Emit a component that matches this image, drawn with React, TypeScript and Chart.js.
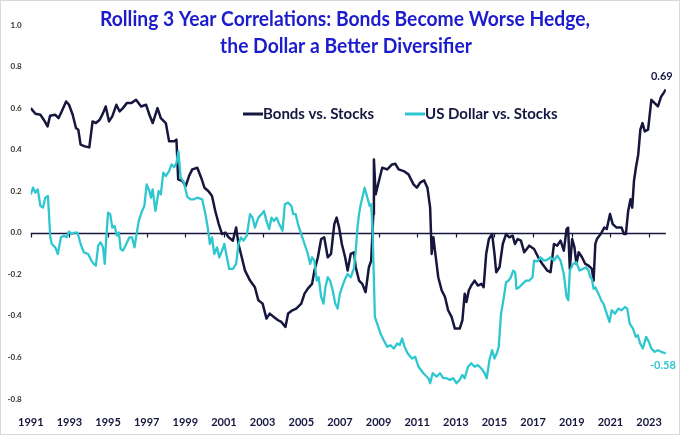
import React, { useEffect, useRef } from "react";
import { Chart, registerables } from "chart.js";

Chart.register(...registerables);

const titleLines = [
  "Rolling 3 Year Correlations: Bonds Become Worse Hedge,",
  "the Dollar a Better Diversifier",
];
const seriesNames = ["Bonds vs. Stocks", "US Dollar vs. Stocks"];
const endLabels = ["0.69", "-0.58"];
const xTickYears = [1991, 1993, 1995, 1997, 1999, 2001, 2003, 2005, 2007, 2009, 2011, 2013, 2015, 2017, 2019, 2021, 2023];
const yTicks = [-0.8, -0.6, -0.4, -0.2, 0, 0.2, 0.4, 0.6, 0.8, 1.0];

const bondDates = [
  1991.0, 1991.24, 1991.5, 1991.67, 1991.87, 1992.0, 1992.27, 1992.44, 1992.6, 1992.83,
  1992.98, 1993.17, 1993.34, 1993.46, 1993.58, 1993.8, 1994.03, 1994.2, 1994.37, 1994.57,
  1994.74, 1994.88, 1995.05, 1995.22, 1995.43, 1995.6, 1995.77, 1995.97, 1996.2, 1996.45,
  1996.71, 1996.97, 1997.14, 1997.31, 1997.56, 1997.73, 1997.99, 1998.16, 1998.42, 1998.54,
  1998.63, 1998.85, 1999.02, 1999.19, 1999.36, 1999.62, 1999.82, 1999.99, 2000.2, 2000.38,
  2000.55, 2000.73, 2000.9, 2001.07, 2001.24, 2001.46, 2001.63, 2001.75, 2001.92, 2002.09,
  2002.35, 2002.6, 2002.78, 2003.0, 2003.2, 2003.37, 2003.58, 2003.8, 2003.97, 2004.18,
  2004.32, 2004.54, 2004.74, 2005.0, 2005.17, 2005.34, 2005.56, 2005.68, 2005.86, 2006.03,
  2006.19, 2006.37, 2006.54, 2006.71, 2006.83, 2006.96, 2007.1, 2007.27, 2007.4, 2007.56,
  2007.73, 2007.82, 2007.99, 2008.16, 2008.33, 2008.5, 2008.62, 2008.73, 2008.76, 2008.85,
  2009.02, 2009.19, 2009.45, 2009.7, 2009.87, 2010.04, 2010.3, 2010.55, 2010.81, 2010.98,
  2011.15, 2011.36, 2011.53, 2011.67, 2011.75, 2011.84, 2011.92, 2012.09, 2012.27, 2012.44,
  2012.6, 2012.78, 2012.95, 2013.2, 2013.34, 2013.46, 2013.55, 2013.67, 2013.8, 2013.97,
  2014.14, 2014.32, 2014.44, 2014.57, 2014.71, 2014.88, 2015.0, 2015.09, 2015.26, 2015.43,
  2015.6, 2015.77, 2015.94, 2016.06, 2016.2, 2016.37, 2016.54, 2016.8, 2017.05, 2017.31,
  2017.48, 2017.73, 2017.9, 2018.08, 2018.25, 2018.42, 2018.59, 2018.73, 2018.81, 2018.9,
  2019.02, 2019.14, 2019.24, 2019.36, 2019.53, 2019.7, 2019.87, 2020.04, 2020.13, 2020.22,
  2020.3, 2020.5, 2020.68, 2020.81, 2020.98, 2021.12, 2021.32, 2021.58, 2021.7, 2021.8,
  2021.92, 2022.04, 2022.13, 2022.22, 2022.32, 2022.44, 2022.55, 2022.66, 2022.78, 2022.95,
  2023.12, 2023.29, 2023.46, 2023.63, 2023.75, 2023.87,
];
const bondValues = [
  0.6, 0.573, 0.568, 0.544, 0.512, 0.563, 0.568, 0.552, 0.584, 0.632,
  0.616, 0.568, 0.504, 0.496, 0.424, 0.416, 0.411, 0.536, 0.528, 0.544,
  0.576, 0.608, 0.536, 0.56, 0.616, 0.584, 0.6, 0.624, 0.624, 0.64,
  0.608, 0.616, 0.568, 0.528, 0.6, 0.552, 0.528, 0.44, 0.44, 0.448,
  0.257, 0.249, 0.225, 0.273, 0.305, 0.313, 0.265, 0.217, 0.2, 0.177,
  0.105, 0.042, -0.006, 0.001, -0.022, -0.038, 0.025, -0.054, -0.118, -0.182,
  -0.23, -0.262, -0.325, -0.341, -0.413, -0.389, -0.405, -0.421, -0.429, -0.453,
  -0.389, -0.373, -0.365, -0.341, -0.293, -0.269, -0.246, -0.182, -0.118, -0.03,
  -0.022, -0.118, -0.102, 0.042, 0.073, 0.025, -0.054, -0.118, -0.182, -0.102,
  -0.094, -0.166, -0.23, -0.246, -0.286, -0.166, -0.134, 0.09, 0.353, 0.185,
  0.249, 0.313, 0.305, 0.329, 0.332, 0.305, 0.297, 0.281, 0.233, 0.217,
  0.241, 0.252, 0.217, 0.121, -0.102, -0.022, -0.086, -0.214, -0.278, -0.309,
  -0.373, -0.405, -0.461, -0.461, -0.421, -0.293, -0.333, -0.278, -0.254, -0.23,
  -0.254, -0.246, -0.262, -0.102, -0.03, -0.006, -0.102, -0.19, -0.166, -0.054,
  -0.006, -0.022, -0.014, -0.054, -0.03, -0.038, -0.094, -0.062, -0.078, -0.126,
  -0.15, -0.182, -0.19, -0.054, -0.062, -0.038, -0.086, 0.018, 0.025, -0.174,
  -0.03, -0.07, -0.15, -0.094, -0.118, -0.15, -0.158, -0.174, -0.23, -0.054,
  -0.03, -0.006, 0.025, 0.018, 0.09, 0.042, 0.025, 0.025, -0.006, -0.006,
  0.105, 0.161, 0.121, 0.249, 0.313, 0.377, 0.496, 0.528, 0.488, 0.496,
  0.64, 0.624, 0.608, 0.656, 0.672, 0.69,
];

const usdDates = [
  1991.0, 1991.12, 1991.24, 1991.36, 1991.5, 1991.63, 1991.75, 1991.89, 1992.01, 1992.09,
  1992.27, 1992.4, 1992.56, 1992.73, 1992.86, 1992.98, 1993.12, 1993.29, 1993.42, 1993.58,
  1993.75, 1993.97, 1994.14, 1994.26, 1994.37, 1994.49, 1994.61, 1994.74, 1994.83, 1994.91,
  1995.0, 1995.11, 1995.22, 1995.34, 1995.46, 1995.56, 1995.65, 1995.77, 1995.94, 1996.11,
  1996.24, 1996.37, 1996.49, 1996.59, 1996.76, 1996.88, 1997.0, 1997.14, 1997.22, 1997.31,
  1997.45, 1997.62, 1997.73, 1997.86, 1997.99, 1998.16, 1998.29, 1998.42, 1998.54, 1998.64,
  1998.76, 1998.93, 1999.1, 1999.27, 1999.45, 1999.62, 1999.87, 2000.04, 2000.16, 2000.27,
  2000.38, 2000.5, 2000.64, 2000.76, 2000.9, 2001.02, 2001.15, 2001.27, 2001.46, 2001.63,
  2001.75, 2001.88, 2002.01, 2002.18, 2002.35, 2002.48, 2002.6, 2002.78, 2002.95, 2003.07,
  2003.2, 2003.34, 2003.46, 2003.58, 2003.72, 2003.86, 2004.03, 2004.15, 2004.32, 2004.49,
  2004.58, 2004.71, 2004.83, 2005.0, 2005.17, 2005.34, 2005.46, 2005.56, 2005.68, 2005.8,
  2005.9, 2006.03, 2006.15, 2006.25, 2006.37, 2006.49, 2006.63, 2006.76, 2006.88, 2007.0,
  2007.14, 2007.27, 2007.4, 2007.56, 2007.73, 2007.82, 2007.91, 2007.99, 2008.08, 2008.16,
  2008.28, 2008.42, 2008.54, 2008.62, 2008.69, 2008.76, 2008.81, 2008.93, 2009.1, 2009.27,
  2009.45, 2009.62, 2009.79, 2009.96, 2010.1, 2010.22, 2010.35, 2010.5, 2010.73, 2010.9,
  2011.07, 2011.32, 2011.58, 2011.67, 2011.8, 2012.01, 2012.18, 2012.35, 2012.52, 2012.69,
  2012.86, 2013.03, 2013.2, 2013.34, 2013.46, 2013.63, 2013.8, 2013.97, 2014.14, 2014.32,
  2014.49, 2014.6, 2014.74, 2014.88, 2015.0, 2015.12, 2015.22, 2015.34, 2015.46, 2015.6,
  2015.73, 2015.85, 2015.97, 2016.07, 2016.14, 2016.28, 2016.45, 2016.63, 2016.8, 2016.97,
  2017.05, 2017.22, 2017.39, 2017.56, 2017.73, 2017.9, 2018.08, 2018.25, 2018.42, 2018.59,
  2018.73, 2018.82, 2018.9, 2019.07, 2019.24, 2019.4, 2019.57, 2019.74, 2019.87, 2019.96,
  2020.04, 2020.13, 2020.22, 2020.38, 2020.55, 2020.64, 2020.81, 2020.95, 2021.07, 2021.24,
  2021.41, 2021.58, 2021.75, 2021.87, 2022.0, 2022.17, 2022.31, 2022.42, 2022.54, 2022.68,
  2022.85, 2022.99, 2023.12, 2023.29, 2023.46, 2023.63, 2023.87,
];
const usdValues = [
  0.185, 0.217, 0.193, 0.209, 0.129, 0.121, 0.169, 0.177, -0.022, -0.054,
  -0.07, -0.102, -0.022, -0.014, -0.022, 0.006, -0.006, 0.001, 0.001, -0.054,
  -0.094, -0.102, -0.134, -0.15, -0.158, -0.062, -0.046, -0.07, -0.15, -0.022,
  0.097, 0.09, 0.025, 0.033, -0.014, 0.001, -0.078, -0.086, -0.054, -0.022,
  -0.022, -0.07, 0.001, 0.057, 0.105, 0.129, 0.233, 0.201, 0.169, 0.209,
  0.105, 0.201, 0.185, 0.289, 0.273, 0.297, 0.329, 0.316, 0.336, 0.392,
  0.265, 0.241, 0.173, 0.161, 0.161, 0.169, 0.161, 0.09, 0.025, -0.054,
  -0.022, -0.102, -0.07, -0.118, -0.086, -0.054, -0.118, -0.174, -0.174, -0.15,
  -0.054, -0.022, -0.038, -0.014, 0.09, 0.073, 0.025, 0.073, 0.09, 0.105,
  0.057, 0.018, 0.073, 0.057, 0.073, 0.042, 0.01, 0.137, 0.145, 0.129,
  0.09, 0.09, 0.042, -0.006, -0.054, -0.102, -0.15, -0.118, -0.134, -0.23,
  -0.214, -0.309, -0.341, -0.262, -0.214, -0.23, -0.278, -0.341, -0.365, -0.293,
  -0.254, -0.222, -0.198, -0.214, -0.17, -0.086, 0.025, 0.09, 0.137, 0.169,
  0.217, 0.169, 0.129, 0.137, 0.025, -0.23, -0.405, -0.437, -0.485, -0.517,
  -0.549, -0.541, -0.557, -0.533, -0.54, -0.509, -0.549, -0.58, -0.605, -0.597,
  -0.645, -0.676, -0.7, -0.724, -0.676, -0.692, -0.676, -0.7, -0.7, -0.708,
  -0.7, -0.724, -0.708, -0.684, -0.7, -0.645, -0.628, -0.645, -0.637, -0.653,
  -0.676, -0.7, -0.612, -0.565, -0.605, -0.58, -0.549, -0.389, -0.325, -0.238,
  -0.23, -0.214, -0.182, -0.19, -0.27, -0.262, -0.246, -0.23, -0.23, -0.214,
  -0.134, -0.138, -0.118, -0.134, -0.13, -0.118, -0.134, -0.11, -0.134, -0.2,
  -0.309, -0.325, -0.182, -0.15, -0.142, -0.182, -0.174, -0.166, -0.182, -0.214,
  -0.222, -0.27, -0.262, -0.293, -0.33, -0.341, -0.389, -0.429, -0.373, -0.389,
  -0.365, -0.373, -0.357, -0.365, -0.437, -0.461, -0.501, -0.493, -0.533, -0.557,
  -0.501, -0.525, -0.557, -0.573, -0.565, -0.573, -0.58,
];

const NAVY = "#16163e";
const CYAN = "#2ec7cf";
const TITLE_BLUE = "#1c1ccc";
const FONT = "Lato, 'Open Sans', 'DejaVu Sans', sans-serif";

const overlayPlugin = {
  id: "overlay",
  beforeDatasetsDraw(chart: any) {
    const { ctx, chartArea, scales } = chart;
    const y0 = Math.round(scales.y.getPixelForValue(0)) + 0.5;
    ctx.save();
    ctx.strokeStyle = NAVY;
    ctx.lineWidth = 1.5;
    ctx.beginPath();
    ctx.moveTo(chartArea.left, y0);
    ctx.lineTo(chartArea.right, y0);
    ctx.stroke();
    ctx.lineWidth = 1.2;
    ctx.beginPath();
    for (const yr of xTickYears) {
      const x = Math.round(scales.x.getPixelForValue(yr)) + 0.5;
      ctx.moveTo(x, y0);
      ctx.lineTo(x, y0 + 4);
    }
    ctx.stroke();
    ctx.restore();
  },
  afterDatasetsDraw(chart: any) {
    const { ctx } = chart;
    ctx.save();
    // Title
    ctx.fillStyle = TITLE_BLUE;
    ctx.font = `bold 21px ${FONT}`;
    ctx.textAlign = "center";
    ctx.textBaseline = "middle";
    const w1 = ctx.measureText(titleLines[0]).width;
    const w2 = ctx.measureText(titleLines[1]).width;
    const f = Math.min(1, 490 / w1);
    ctx.fillText(titleLines[0], 344, 18, w1 * f);
    ctx.fillText(titleLines[1], 345, 45, w2 * f);

    // Legend
    const legendItems = [
      { x: 242, color: NAVY, text: seriesNames[0], width: 114 },
      { x: 404, color: CYAN, text: seriesNames[1], width: 135 },
    ];
    ctx.font = `bold 15px ${FONT}`;
    ctx.textAlign = "left";
    for (const it of legendItems) {
      ctx.strokeStyle = it.color;
      ctx.lineWidth = 3;
      ctx.beginPath();
      ctx.moveTo(it.x, 113);
      ctx.lineTo(it.x + 20, 113);
      ctx.stroke();
      ctx.fillStyle = NAVY;
      const tw = ctx.measureText(it.text).width;
      ctx.fillText(it.text, it.x + 20, 113, Math.min(tw, it.width));
    }

    // End labels
    ctx.font = `bold 11px ${FONT}`;
    ctx.textAlign = "center";
    const m0 = chart.getDatasetMeta(0).data;
    const m1 = chart.getDatasetMeta(1).data;
    const p0 = m0[m0.length - 1];
    const p1 = m1[m1.length - 1];
    ctx.fillStyle = NAVY;
    ctx.fillText(endLabels[0], p0.x - 4, p0.y - 13);
    ctx.fillStyle = CYAN;
    ctx.fillText(endLabels[1], p1.x - 3, p1.y + 12);
    ctx.restore();
  },
};

export default function App() {
  const canvasRef = useRef<HTMLCanvasElement | null>(null);

  useEffect(() => {
    const canvas = canvasRef.current;
    if (!canvas) return;
    const chart = new Chart(canvas, {
      type: "line",
      data: {
        datasets: [
          {
            label: seriesNames[0],
            data: bondDates.map((d, i) => ({ x: d, y: bondValues[i] })),
            borderColor: NAVY,
            borderWidth: 2.5,
            pointRadius: 0,
            tension: 0,
            borderJoinStyle: "round",
            order: 1,
          },
          {
            label: seriesNames[1],
            data: usdDates.map((d, i) => ({ x: d, y: usdValues[i] })),
            borderColor: CYAN,
            borderWidth: 2.3,
            pointRadius: 0,
            tension: 0,
            borderJoinStyle: "round",
            order: 0,
          },
        ],
      },
      options: {
        animation: false,
        responsive: false,
        maintainAspectRatio: false,
        devicePixelRatio: 1,
        layout: { padding: { left: 0, right: 11, top: 24, bottom: 0 } },
        plugins: {
          legend: { display: false },
          tooltip: { enabled: false },
          title: { display: false },
        },
        scales: {
          x: {
            type: "linear",
            min: 1991,
            max: 2023.87,
            afterBuildTicks: (s: any) => {
              s.ticks = xTickYears.map((v) => ({ value: v }));
            },
            afterFit: (s: any) => {
              s.height = 35;
            },
            grid: { display: false, drawTicks: false },
            border: { display: false },
            ticks: {
              padding: 17,
              autoSkip: false,
              maxRotation: 0,
              color: NAVY,
              font: { family: FONT, size: 11, weight: "bold" },
              callback: (v: any) => String(v),
            },
          },
          y: {
            type: "linear",
            min: -0.8,
            max: 1.0,
            afterBuildTicks: (s: any) => {
              s.ticks = yTicks.map((v) => ({ value: v }));
            },
            afterFit: (s: any) => {
              s.width = 26;
            },
            grid: { display: false, drawTicks: false },
            border: { display: false },
            ticks: {
              padding: 9,
              color: "#333333",
              font: { family: FONT, size: 8, weight: "bold" },
              callback: (v: any) => Number(v).toFixed(1),
            },
          },
        },
      },
      plugins: [overlayPlugin],
    });
    return () => chart.destroy();
  }, []);

  return (
    <div
      style={{
        position: "fixed",
        left: 0,
        top: 0,
        width: 680,
        height: 435,
        boxSizing: "border-box",
        border: "1px solid #d9d9d9",
        background: "#ffffff",
      }}
    >
      <canvas ref={canvasRef} width={678} height={433} style={{ display: "block" }} />
    </div>
  );
}
